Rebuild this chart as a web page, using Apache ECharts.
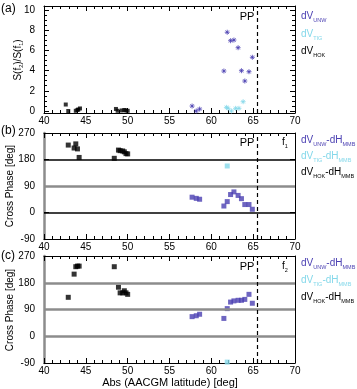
<!DOCTYPE html>
<html>
<head>
<meta charset="utf-8">
<script src="https://cdn.jsdelivr.net/npm/echarts@6/dist/echarts.min.js"></script>
<style>
  html, body { margin: 0; padding: 0; background: #fff; }
  #chart { width: 357px; height: 389px; }
</style>
</head>
<body>
<div id="chart"></div>
<script>
// tick labels
const latTicks = [40, 45, 50, 55, 60, 65, 70];
const ratioTicks = [0, 2, 4, 6, 8, 10];
const ratioMinor = [0, 0.5, 1, 1.5, 2, 2.5, 3, 3.5, 4, 4.5, 5, 5.5, 6, 6.5, 7, 7.5, 8, 8.5, 9, 9.5, 10];
const phaseTicks = [-90, 0, 90, 180, 270];
const ppLat = 65.5;

// panel (a): S(f2)/S(f1)
const latHokA = [42.6, 42.9, 43.8, 44.0, 44.1, 44.3, 48.6, 48.8, 49.3, 49.6, 49.8, 50.0];
const ratioHok = [0.64, 0, 0.02, 0.1, 0.15, 0.25, 0.2, 0.02, 0.05, 0.1, 0.05, 0.02];
const latUnw = [57.7, 58.2, 58.6, 61.5, 61.9, 62.3, 62.7, 63.2, 63.6, 64.0, 64.5, 64.9];
const ratioUnw = [0.49, 0, 0.19, 3.96, 7.8, 6.96, 7.03, 6.27, 3.99, 2.97, 3.89, 5.32];
const latTigA = [61.8, 62.0, 62.4, 62.9, 63.3, 63.8];
const ratioTig = [0.36, 0.26, 0, 0.26, 0.26, 0.92];

// panels (b), (c): cross phase
const latHok = [42.9, 43.6, 43.8, 44.0, 44.2, 48.4, 48.9, 49.1, 49.4, 49.6, 49.8, 50.0];
const phaseHokF1 = [229, 219, 233, 216, 187, 184, 212, 210, 209, 206, 200, 199];
const phaseHokF2 = [131, 209, 234, 236, 236, 234, 165, 146, 146, 153, 146, 141];
const phaseUnwF1 = [52, 48, 45, 22, 37, 61, 70, 58, 47, 27, 27, 11];
const phaseUnwF2 = [66, 69, 74, 60, 93, 115, 119, 121, 121, 124, 141, 111];
const latTig = [61.9];
const phaseTigF1 = [158];
const phaseTigF2 = [-87];

const BLUE = '#4a3fb2';
const CYAN = '#84d8ea';
const GRAY = '#8c8c8c';
const FONT = 'Liberation Sans';
const asterisk = 'path://M5 0V10M0 5H10M1.5 1.5L8.5 8.5M8.5 1.5L1.5 8.5';

const zip = (xs, ys) => xs.map((x, i) => [x, ys[i]]);

const grids = [
    { left: 44, width: 251, top: 6, height: 107 },
    { left: 44, width: 251, top: 133, height: 106 },
    { left: 44, width: 251, top: 256, height: 107 }
];

// x axes: bottom (labels) + top (ticks only) for each grid
const xAxes = [];
grids.forEach((g, i) => {
    ['bottom', 'top'].forEach(pos => {
        xAxes.push({
            gridIndex: i,
            type: 'value',
            position: pos,
            min: latTicks[0],
            max: latTicks[latTicks.length - 1],
            interval: 5,
            axisLine: { show: true, onZero: false, lineStyle: { color: '#000', width: 1 } },
            axisTick: { show: true, inside: true, length: 5, lineStyle: { color: '#000' } },
            minorTick: { show: true, splitNumber: 5, length: 3, lineStyle: { color: '#000' } },
            axisLabel: { show: pos === 'bottom', color: '#000', fontSize: 10, fontFamily: FONT, margin: 3 },
            splitLine: { show: false }
        });
    });
});

// y axes
const yAxes = [];
// panel (a): major + minor on left and right
['left', 'right'].forEach(pos => {
    yAxes.push({
        gridIndex: 0, type: 'value', position: pos, min: -0.2, max: 10.4,
        axisLine: { show: true, onZero: false, lineStyle: { color: '#000', width: 1 } },
        axisTick: { show: true, inside: true, length: 5, customValues: ratioTicks, lineStyle: { color: '#000' } },
        axisLabel: { show: pos === 'left', customValues: ratioTicks, color: '#000', fontSize: 10, fontFamily: FONT, margin: 9 },
        splitLine: { show: false }
    });
    yAxes.push({
        gridIndex: 0, type: 'value', position: pos, min: -0.2, max: 10.4,
        axisLine: { show: false },
        axisTick: { show: true, inside: true, length: 3, customValues: ratioMinor, lineStyle: { color: '#000' } },
        axisLabel: { show: false },
        splitLine: { show: false }
    });
});
// panels (b), (c)
[1, 2].forEach(gi => {
    ['left', 'right'].forEach(pos => {
        yAxes.push({
            gridIndex: gi, type: 'value', position: pos,
            min: phaseTicks[0], max: phaseTicks[phaseTicks.length - 1], interval: 90,
            axisLine: { show: true, onZero: false, lineStyle: { color: pos === 'left' ? GRAY : '#000', width: pos === 'left' ? 2.5 : 1 } },
            axisTick: { show: true, inside: true, length: 5, lineStyle: { color: '#000' } },
            axisLabel: { show: pos === 'left', color: '#000', fontSize: 10, fontFamily: FONT, margin: 9 },
            splitLine: { show: false }
        });
    });
});

function refLines(xi, yi, hLines) {
    return {
        type: 'line', xAxisIndex: xi, yAxisIndex: yi, data: [], silent: true, z: 1,
        markLine: {
            silent: true, symbol: 'none', label: { show: false }, animation: false,
            data: hLines.map(h => ({ yAxis: h[0], lineStyle: { type: 'solid', color: h[1], width: h[2] } }))
                .concat([{ xAxis: ppLat, lineStyle: { type: [4, 3], color: '#000', width: 1.2 } }])
        }
    };
}

function pts(xi, yi, data, color, symbol, size, stroke) {
    return {
        type: 'scatter', xAxisIndex: xi, yAxisIndex: yi, data: data, z: 3,
        symbol: symbol, symbolSize: size, silent: true,
        itemStyle: stroke ? { color: color, borderColor: color, borderWidth: 1 } : { color: color }
    };
}

const series = [
    refLines(0, 0, []),
    pts(0, 0, zip(latHokA, ratioHok), '#000', 'rect', 4, false),
    pts(0, 0, zip(latTigA, ratioTig), CYAN, asterisk, 5, true),
    pts(0, 0, zip(latUnw, ratioUnw), BLUE, asterisk, 5, true),

    refLines(2, 4, [[180, '#000', 1.5], [90, GRAY, 2.5], [0, '#000', 1.5]]),
    pts(2, 4, zip(latHok, phaseHokF1), '#000', 'rect', 5, false),
    pts(2, 4, zip(latTig, phaseTigF1), CYAN, 'rect', 5, false),
    pts(2, 4, zip(latUnw, phaseUnwF1), BLUE, 'rect', 5, false),

    refLines(4, 6, [[180, GRAY, 2.5], [90, GRAY, 2.5], [0, GRAY, 2.5]]),
    pts(4, 6, zip(latHok, phaseHokF2), '#000', 'rect', 5, false),
    pts(4, 6, zip(latTig, phaseTigF2), CYAN, 'rect', 5, false),
    pts(4, 6, zip(latUnw, phaseUnwF2), BLUE, 'rect', 5, false)
];

const rich = {
    m: { fontSize: 10, fontFamily: FONT, lineHeight: 13, verticalAlign: 'middle' },
    s: { fontSize: 5.5, fontFamily: FONT, lineHeight: 13, verticalAlign: 'bottom' }
};
function richStyle(color) {
    const r = {};
    Object.keys(rich).forEach(k => { r[k] = Object.assign({}, rich[k], { fill: color }); });
    return r;
}
function legendText(x, y, str, color) {
    return { type: 'text', x: x, y: y, silent: true,
        style: { text: str, fill: color, rich: richStyle(color) } };
}
function plainText(x, y, str, size, align) {
    return { type: 'text', x: x, y: y, silent: true,
        style: { text: str, fill: '#000', font: size + 'px ' + FONT, align: align || 'left', verticalAlign: 'middle' } };
}
function yTitle(x, y, str) {
    return { type: 'text', x: x, y: y, rotation: Math.PI / 2, silent: true,
        style: { text: str, fill: '#000', align: 'center', verticalAlign: 'middle', rich: richStyle('#000') } };
}

const graphic = [
    plainText(1, 9, '(a)', 12), plainText(1, 131, '(b)', 12), plainText(1, 256, '(c)', 12),
    yTitle(18, 60, '{m|S(f}{s|2}{m|)/S(f}{s|1}{m|)}'),
    yTitle(10, 186, '{m|Cross Phase [deg]}'),
    yTitle(10, 310, '{m|Cross Phase [deg]}'),
    plainText(247, 17, 'PP', 11, 'center'),
    plainText(247, 143, 'PP', 11, 'center'),
    plainText(247, 267, 'PP', 11, 'center'),
    { type: 'text', x: 282, y: 136, silent: true, style: { text: '{m|f}{s|1}', rich: richStyle('#000') } },
    { type: 'text', x: 282, y: 260, silent: true, style: { text: '{m|f}{s|2}', rich: richStyle('#000') } },
    legendText(301, 10, '{m|dV}{s|UNW}', BLUE),
    legendText(301, 28, '{m|dV}{s|TIG}', CYAN),
    legendText(301, 45, '{m|dV}{s|HOK}', '#000'),
    legendText(301, 134, '{m|dV}{s|UNW}{m|-dH}{s|MMB}', BLUE),
    legendText(301, 150, '{m|dV}{s|TIG}{m|-dH}{s|MMB}', CYAN),
    legendText(301, 166, '{m|dV}{s|HOK}{m|-dH}{s|MMB}', '#000'),
    legendText(301, 257, '{m|dV}{s|UNW}{m|-dH}{s|MMB}', BLUE),
    legendText(301, 274, '{m|dV}{s|TIG}{m|-dH}{s|MMB}', CYAN),
    legendText(301, 291, '{m|dV}{s|HOK}{m|-dH}{s|MMB}', '#000'),
    plainText(170, 383, 'Abs (AACGM latitude) [deg]', 11, 'center')
];

const chart = echarts.init(document.getElementById('chart'), null, { renderer: 'canvas' });
chart.setOption({
    animation: false,
    backgroundColor: '#fff',
    grid: grids,
    xAxis: xAxes,
    yAxis: yAxes,
    series: series,
    graphic: graphic
});
</script>
</body>
</html>
